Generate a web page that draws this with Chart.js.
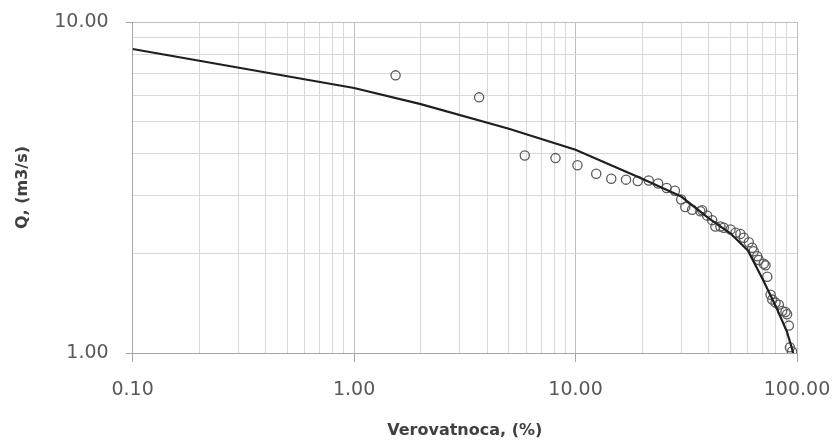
<!DOCTYPE html>
<html>
<head>
<meta charset="utf-8">
<script src="https://cdn.jsdelivr.net/npm/chart.js@4.4.1/dist/chart.umd.min.js"></script>
<style>
  body { margin: 0; background: #fff; }
  canvas { display: block; }
</style>
</head>
<body>
<canvas id="myChart" width="832" height="441"></canvas>
<script>
// fitted curve (probability %, Q m3/s)
var curveP = [0.1, 1, 2, 5, 10, 20, 30, 40, 50, 60, 70, 80, 90, 95, 97];
var curveQ = [8.29, 6.32, 5.65, 4.76, 4.11, 3.36, 2.97, 2.55, 2.30, 2.04, 1.67, 1.39, 1.16, 1.03, 0.97];

// observed values
var obsP = [1.54, 3.67, 5.90, 8.12, 10.2, 12.4, 14.5, 16.9, 19.1, 21.4, 23.6, 25.8, 28.1, 30.0, 31.3,
            33.6, 36.6, 37.3, 39.3, 41.4, 42.8, 45.1, 46.7, 50.1, 52.8, 55.5, 57.5, 60.6, 62.7, 63.8,
            66.1, 67.2, 70.8, 72.1, 73.4, 76.0, 77.3, 80.0, 82.8, 85.7, 88.7, 90.2, 91.9, 92.9, 95.0];
var obsQ = [6.90, 5.92, 3.95, 3.88, 3.69, 3.48, 3.36, 3.34, 3.31, 3.32, 3.25, 3.15, 3.09, 2.91, 2.76,
            2.71, 2.68, 2.70, 2.60, 2.52, 2.41, 2.41, 2.39, 2.36, 2.31, 2.29, 2.23, 2.16, 2.08, 2.03,
            1.96, 1.91, 1.86, 1.84, 1.70, 1.50, 1.45, 1.42, 1.40, 1.34, 1.33, 1.31, 1.21, 1.04, 1.01];

// grid lines: every integer multiple inside each decade
var xTicks = [0.1, 0.2, 0.3, 0.4, 0.5, 0.6, 0.7, 0.8, 0.9,
              1, 2, 3, 4, 5, 6, 7, 8, 9,
              10, 20, 30, 40, 50, 60, 70, 80, 90, 100];
var yTicks = [1, 2, 3, 4, 5, 6, 7, 8, 9, 10];

var curvePoints = [];
for (var i = 0; i < curveP.length; i++) {
  curvePoints.push({x: curveP[i], y: curveQ[i]});
}
var obsPoints = [];
for (var i = 0; i < obsP.length; i++) {
  obsPoints.push({x: obsP[i], y: obsQ[i]});
}

function isDecade(v) {
  var l = Math.log10(v);
  return Math.abs(l - Math.round(l)) < 1e-6;
}
function tickLabel(v) {
  return isDecade(v) ? Number(v).toFixed(2) : '';
}
function gridColor(ctx) {
  if (!ctx.tick) return '#d9d9d9';
  return isDecade(ctx.tick.value) ? '#bfbfbf' : '#d9d9d9';
}
function tickMarkColor(ctx) {
  if (!ctx.tick) return 'transparent';
  return isDecade(ctx.tick.value) ? '#a6a6a6' : 'transparent';
}

var tickFont = {family: 'DejaVu Sans', size: 19};
var titleFont = {family: 'DejaVu Sans', size: 16, weight: 'bold'};

var myChart = new Chart(document.getElementById('myChart'), {
  type: 'scatter',
  data: {
    datasets: [{
      label: 'curve',
      data: curvePoints,
      showLine: true,
      borderColor: '#1f1f1f',
      borderWidth: 2.2,
      pointRadius: 0,
      tension: 0
    }, {
      label: 'observed',
      data: obsPoints,
      showLine: false,
      pointStyle: 'circle',
      pointRadius: 4.6,
      borderColor: '#5a5a5a',
      borderWidth: 1.3,
      backgroundColor: 'rgba(0,0,0,0)'
    }]
  },
  options: {
    responsive: false,
    animation: false,
    layout: {
      padding: {left: 9, right: 35, top: 22, bottom: 1}
    },
    plugins: {
      legend: {display: false},
      tooltip: {enabled: false}
    },
    scales: {
      x: {
        type: 'logarithmic',
        min: xTicks[0],
        max: xTicks[xTicks.length - 1],
        afterBuildTicks: function(scale) {
          scale.ticks = xTicks.map(function(v) { return {value: v}; });
        },
        afterFit: function(scale) {
          // let layout.padding decide the plot edges
          scale.paddingLeft = 0;
          scale.paddingRight = 0;
        },
        border: {color: '#a6a6a6', width: 1},
        grid: {
          color: gridColor,
          tickColor: tickMarkColor,
          tickLength: 9,
          lineWidth: 1
        },
        ticks: {
          autoSkip: false,
          maxRotation: 0,
          padding: 17,
          color: '#595959',
          font: tickFont,
          callback: tickLabel
        },
        title: {
          display: true,
          text: 'Verovatnoca, (%)',
          color: '#404040',
          font: titleFont,
          padding: {top: 2, bottom: 0}
        }
      },
      y: {
        type: 'logarithmic',
        min: yTicks[0],
        max: yTicks[yTicks.length - 1],
        afterBuildTicks: function(scale) {
          scale.ticks = yTicks.map(function(v) { return {value: v}; });
        },
        afterFit: function(scale) {
          scale.paddingTop = 0;
          scale.paddingBottom = 0;
        },
        border: {color: '#a6a6a6', width: 1},
        grid: {
          color: gridColor,
          tickColor: tickMarkColor,
          tickLength: 7,
          lineWidth: 1
        },
        ticks: {
          autoSkip: false,
          padding: 17,
          color: '#595959',
          font: tickFont,
          callback: tickLabel
        },
        title: {
          display: true,
          text: 'Q, (m3/s)',
          color: '#404040',
          font: titleFont,
          padding: {top: 4, bottom: 5}
        }
      }
    }
  }
});
</script>
</body>
</html>
